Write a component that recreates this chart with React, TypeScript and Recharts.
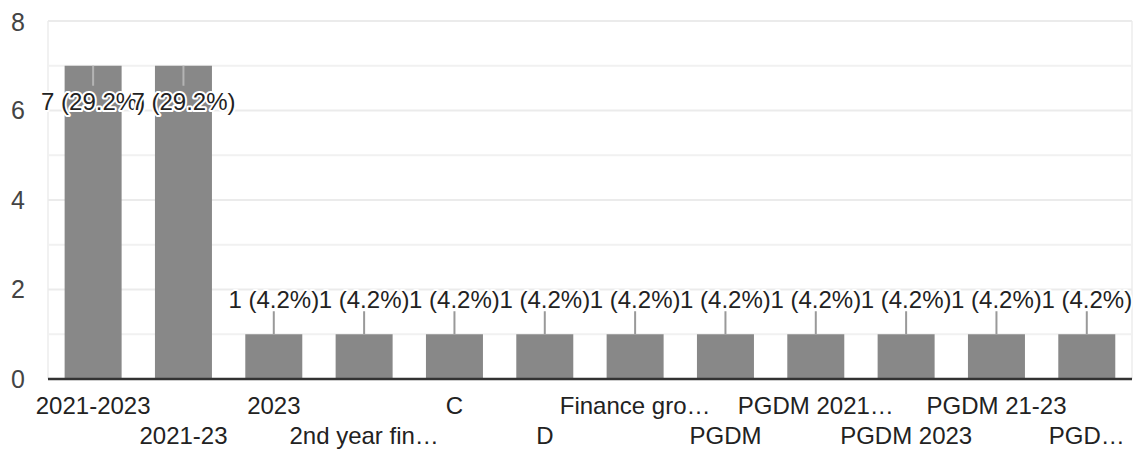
import React from 'react';
import { BarChart, Bar, XAxis, YAxis, CartesianGrid, LabelList } from 'recharts';

const categories = [
  '2021-2023',
  '2021-23',
  '2023',
  '2nd year fin…',
  'C',
  'D',
  'Finance gro…',
  'PGDM',
  'PGDM 2021…',
  'PGDM 2023',
  'PGDM 21-23',
  'PGD…',
];
const counts = [7, 7, 1, 1, 1, 1, 1, 1, 1, 1, 1, 1];
const yTicks = [0, 2, 4, 6, 8];
const majorGridValues = [2, 4, 6, 8];
const minorGridValues = [1, 3, 5, 7];

const total = counts.reduce((a, b) => a + b, 0);
const data = categories.map((name, i) => ({ name, count: counts[i] }));

const FONT = 'Arial, "Liberation Sans", sans-serif';

const Annotation = (props: any) => {
  const { x, y, width, height, value } = props;
  const cx = Number(x) + Number(width) / 2;
  const top = Number(y);
  const label = `${value} (${((Number(value) / total) * 100).toFixed(1)}%)`;
  const inside = Number(height) > 120;
  if (inside) {
    return (
      <g>
        <line x1={cx} x2={cx} y1={top} y2={top + 20} stroke="#b4b4b4" strokeWidth={2} />
        <text
          x={cx}
          y={top + 44}
          textAnchor="middle"
          fontSize={24}
          fill="#222"
          stroke="#fff"
          strokeWidth={4}
          strokeLinejoin="round"
          paintOrder="stroke"
          fontFamily={FONT}
        >
          {label}
        </text>
      </g>
    );
  }
  return (
    <g>
      <line x1={cx} x2={cx} y1={top} y2={top - 23} stroke="#999" strokeWidth={2} />
      <text
        x={cx}
        y={top - 26}
        textAnchor="middle"
        fontSize={24}
        fill="#222"
        stroke="#fff"
        strokeWidth={4}
        strokeLinejoin="round"
        paintOrder="stroke"
        fontFamily={FONT}
      >
        {label}
      </text>
    </g>
  );
};

const XTick = (props: any) => {
  const { x, y, payload, index } = props;
  const i = payload && payload.index != null ? payload.index : index;
  const row = i % 2;
  return (
    <text
      x={x}
      y={y + (row === 0 ? 35 : 65)}
      textAnchor="middle"
      fontSize={24}
      fill="#222"
      fontFamily={FONT}
    >
      {payload.value}
    </text>
  );
};

const yGen = (values: number[]) => (p: any) => {
  const { yAxis, offset } = p;
  if (yAxis && typeof yAxis.scale === 'function') return values.map((v) => yAxis.scale(v));
  return values.map((v) => offset.top + offset.height * (1 - v / 8));
};

export default function App() {
  return (
    <div style={{ width: 1133, height: 446 }}>
      <BarChart
        width={1133}
        height={446}
        data={data}
        margin={{ top: 13, right: 9, left: 0, bottom: 0 }}
        barCategoryGap="18.4%"
      >
        <CartesianGrid
          stroke="#f1f1f1"
          strokeWidth={2}
          horizontalCoordinatesGenerator={yGen(minorGridValues)}
          verticalCoordinatesGenerator={(p: any) => [p.offset.left, p.offset.left + p.offset.width]}
        />
        <CartesianGrid
          stroke="#ebebeb"
          strokeWidth={2}
          vertical={false}
          horizontalCoordinatesGenerator={yGen(majorGridValues)}
        />
        <XAxis
          dataKey="name"
          interval={0}
          height={75}
          tickLine={false}
          tickSize={0}
          tickMargin={0}
          axisLine={{ stroke: '#333', strokeWidth: 2.5 }}
          tick={<XTick />}
        />
        <YAxis
          domain={[0, 8]}
          ticks={yTicks}
          width={40}
          axisLine={false}
          tickLine={false}
          tickSize={0}
          tickMargin={23}
          tick={{ fontSize: 25, fill: '#444', fontFamily: FONT }}
        />
        <Bar dataKey="count" fill="#888888" isAnimationActive={false}>
          <LabelList dataKey="count" content={<Annotation />} />
        </Bar>
      </BarChart>
    </div>
  );
}
